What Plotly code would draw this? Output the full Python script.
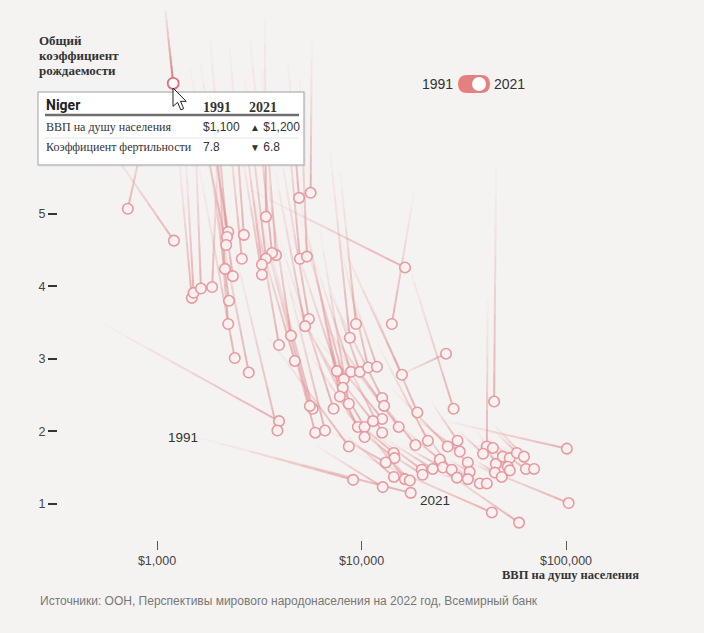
import math
import plotly.graph_objects as go

# ---------------- DATA ----------------
# GDP per capita (PPP $) and total fertility rate, 1991 -> 2021
gdp_1991 = [1100, 900, 560, 1270, 1370, 1530, 1990, 1620, 1820, 1450,
            2270, 2150, 1920, 1820, 1720, 1920, 3370, 3260, 2850, 2690,
            2545, 2545, 4370, 5710, 4230, 5000, 3990, 3780, 3370, 2850,
            2850, 1620, 1920, 557, 2400, 3570, 4230, 3370, 3010, 3990,
            5000, 5000, 4470, 5590, 6260, 7000, 7840, 6000, 7000, 8000,
            9000, 18140, 2850, 14500, 7840, 7000, 6500, 11000, 17000, 45500,
            6000, 8500, 4500, 5000, 5500, 7000, 3500, 9000, 12000, 14000,
            22000, 18000, 41400, 36000, 30000, 8000, 9000, 7000, 15000, 25000,
            37000, 38000, 42000, 45000, 44000, 40000, 41000, 46000, 48000, 36000,
            38000, 11000, 13000, 16000, 19000, 27000, 12000, 24000, 28000, 33000,
            36000, 8000, 10000, 12000, 2850, 6000, 1530, 8770, 19300, 24150,
            27000, 6500]
fert_1991 = [7.8, 6.3, 6.0, 5.9, 6.0, 6.3, 5.9, 7.1, 7.4, 7.0,
             7.3, 6.7, 6.6, 6.3, 6.2, 5.7, 7.7, 7.0, 7.4, 6.85,
             6.6, 6.0, 7.1, 7.4, 6.6, 6.85, 5.9, 5.6, 5.7, 5.5,
             5.1, 5.6, 5.2, 3.47, 4.5, 4.37, 4.23, 4.78, 5.19, 4.64,
             5.19, 4.92, 4.78, 4.64, 4.78, 5.88, 5.6, 4.3, 4.0, 4.5,
             3.9, 5.33, 5.33, 2.74, 4.64, 3.9, 3.5, 3.8, 4.3, 5.63,
             3.3, 3.0, 3.9, 3.6, 3.1, 3.4, 3.3, 2.9, 3.2, 2.6,
             2.4, 2.2, 3.81, 1.8, 2.0, 2.3, 2.1, 2.0, 2.1, 1.9,
             2.0, 1.85, 1.9, 2.0, 2.1, 1.7, 1.6, 1.75, 1.8, 1.6,
             1.5, 2.0, 1.9, 1.8, 2.1, 1.6, 1.8, 1.4, 1.55, 1.4,
             1.3, 2.0, 2.1, 1.8, 1.72, 1.8, 1.92, 1.74, 1.68, 2.16,
             1.68, 3.0]
gdp_2021 = [1200, 720, 1210, 1480, 1510, 1640, 1860, 2230, 2200, 2180,
            2660, 2600, 2150, 2350, 2250, 2230, 3410, 3820, 3650, 3410,
            3260, 3260, 4950, 5640, 5000, 5410, 5530, 5300, 4520, 3950,
            4720, 2400, 2810, 3950, 3880, 5940, 6630, 5770, 5590, 7300,
            7580, 8200, 8100, 7840, 8670, 8770, 9400, 8880, 9820, 10780,
            11900, 14070, 16320, 25900, 15770, 12620, 12900, 18750, 28200, 44500,
            12620, 15200, 9600, 10350, 10350, 12620, 8670, 18350, 21120, 26400,
            29490, 30240, 41000, 43900, 39300, 14380, 14500, 13150, 24150, 33100,
            45400, 49100, 53100, 57500, 62300, 51900, 53100, 63700, 69800, 44900,
            48500, 19700, 22300, 25000, 27600, 33800, 19900, 29300, 33100, 37900,
            41000, 14400, 16300, 17230, 9100, 12700, 17400, 43400, 58900, 101000,
            103000, 11380]
fert_2021 = [6.8, 5.07, 4.63, 3.84, 3.91, 3.97, 3.99, 4.75, 4.68, 4.57,
             4.71, 4.38, 4.24, 4.14, 3.80, 3.48, 4.96, 4.43, 4.46, 4.38,
             4.30, 4.16, 5.22, 5.29, 4.38, 4.41, 3.55, 3.45, 3.32, 3.19,
             2.97, 3.01, 2.81, 2.14, 2.01, 1.98, 2.01, 2.31, 2.35, 2.31,
             2.83, 2.72, 2.60, 2.48, 2.38, 3.29, 3.48, 2.82, 2.82, 2.88,
             2.89, 3.48, 4.26, 3.07, 2.78, 2.46, 2.35, 2.26, 2.31, 2.41,
             2.17, 2.06, 2.06, 2.06, 1.92, 1.98, 1.79, 1.81, 1.87, 1.79,
             1.87, 1.72, 1.79, 1.77, 1.69, 1.70, 1.63, 1.57, 1.61, 1.57,
             1.55, 1.65, 1.63, 1.70, 1.65, 1.51, 1.46, 1.48, 1.48, 1.43,
             1.37, 1.47, 1.48, 1.50, 1.47, 1.44, 1.40, 1.36, 1.34, 1.28,
             1.28, 1.37, 1.34, 1.32, 1.33, 1.23, 1.15, 0.88, 0.74, 1.76,
             1.01, 2.14]
highlight = 0  # Niger
x_tickvals = [1000, 10000, 100000]
x_ticktext = ["$1,000", "$10,000", "$100,000"]
y_tickvals = [1, 2, 3, 4, 5]

# ---------------- STYLE ----------------
BG = "#f5f3f1"
W, H = 704, 633
L, R, T, B = 58, 59, 0, 93
pw, ph = W - L - R, H - T - B
XR = [2.5159, 5.3863]
YR = [0.5, 7.95]

def px(x):
    return (x - L) / pw

def py(y):
    return (H - B - y) / ph

fig = go.Figure()

K = 8
n = len(gdp_2021)
groups = 12
for k in range(K):
    t0, t1 = k / K, (k + 1) / K
    a = 0.04 + 0.66 * ((k + 0.5) / K) ** 1.3
    for g in range(groups):
        xs, ys = [], []
        for i in range(g, n, groups):
            if i == highlight:
                continue
            lx0, lx1 = math.log10(gdp_1991[i]), math.log10(gdp_2021[i])
            y0, y1 = fert_1991[i], fert_2021[i]
            xs += [10 ** (lx0 + t0 * (lx1 - lx0)), 10 ** (lx0 + t1 * (lx1 - lx0)), None]
            ys += [y0 + t0 * (y1 - y0), y0 + t1 * (y1 - y0), None]
        fig.add_trace(go.Scatter(x=xs, y=ys, mode="lines",
                                 line=dict(color=f"rgba(226,145,148,{a:.3f})", width=2),
                                 hoverinfo="skip", showlegend=False))

# highlighted line
i = highlight
lx0, lx1 = math.log10(gdp_1991[i]), math.log10(gdp_2021[i])
for k in range(K):
    t0, t1 = k / K, (k + 1) / K
    a = 0.1 + 0.85 * ((k + 0.5) / K) ** 1.2
    fig.add_trace(go.Scatter(
        x=[10 ** (lx0 + t0 * (lx1 - lx0)), 10 ** (lx0 + t1 * (lx1 - lx0))],
        y=[fert_1991[i] + t0 * (fert_2021[i] - fert_1991[i]), fert_1991[i] + t1 * (fert_2021[i] - fert_1991[i])],
        mode="lines", line=dict(color=f"rgba(220,100,112,{a:.3f})", width=2),
        hoverinfo="skip", showlegend=False))

others = [j for j in range(n) if j != highlight]
fig.add_trace(go.Scatter(
    x=[gdp_2021[j] for j in others], y=[fert_2021[j] for j in others], mode="markers",
    marker=dict(size=10.5, color="rgba(250,242,242,0.92)",
                line=dict(color="rgba(230,150,155,0.95)", width=1.6)),
    hoverinfo="skip", showlegend=False))
fig.add_trace(go.Scatter(
    x=[gdp_2021[highlight]], y=[fert_2021[highlight]], mode="markers",
    marker=dict(size=11, color="white", line=dict(color="rgb(222,112,122)", width=1.8)),
    hoverinfo="skip", showlegend=False))

shapes = []
ann = []

# tooltip box
shapes.append(dict(type="rect", xref="paper", yref="paper", x0=px(39), x1=px(305.5), y0=py(166.5), y1=py(93),
                   fillcolor="rgba(0,0,0,0.07)", line=dict(width=0), layer="above"))
shapes.append(dict(type="rect", xref="paper", yref="paper", x0=px(38), x1=px(304), y0=py(165), y1=py(92),
                   fillcolor="white", line=dict(color="#bdbdbd", width=1.5), layer="above"))
shapes.append(dict(type="line", xref="paper", yref="paper", x0=px(45), x1=px(299), y0=py(115), y1=py(115),
                   line=dict(color="#6f6f6f", width=2.5), layer="above"))
shapes.append(dict(type="line", xref="paper", yref="paper", x0=px(45), x1=px(299), y0=py(138), y1=py(138),
                   line=dict(color="#e4e4e4", width=1), layer="above"))

def txt(x, y, s, size=12, color="#333", family="Liberation Sans", xanchor="left", bold=False, bg=None):
    d = dict(xref="paper", yref="paper", x=px(x), y=py(y), text=(f"<b>{s}</b>" if bold else s),
             showarrow=False, xanchor=xanchor, yanchor="middle",
             font=dict(size=size, color=color, family=family))
    if bg:
        d["bgcolor"] = bg
    ann.append(d)

SERIF = "Liberation Serif"
txt(44, 105, "Niger", 14, "#222", "Roboto", bold=True)
txt(201, 107, "1991", 14, "#333", SERIF, bold=True)
txt(247, 107, "2021", 14, "#333", SERIF, bold=True)
txt(44, 127, "ВВП на душу населения", 12, "#333", SERIF)
txt(201, 127, "$1,100", 12, "#333", "Liberation Sans")
txt(248, 127, "<span style='font-size:10px'>▲</span> $1,200", 12, "#333", "Liberation Sans")
txt(44, 147, "Коэффициент фертильности", 12, "#333", SERIF)
txt(201, 147, "7.8", 12, "#333", "Liberation Sans")
txt(248, 147, "<span style='font-size:10px'>▼</span> 6.8", 12, "#333", "Liberation Sans")

# y-axis title (three lines)
for yy, s in [(40, "Общий"), (55, "коэффициент"), (70, "рождаемости")]:
    txt(37, yy, s, 13, "#333", SERIF, bold=True)
# x-axis title
txt(641, 575, "ВВП на душу населения", 12.5, "#333", SERIF, xanchor="right", bold=True)
# source
txt(38, 601, "Источники: ООН, Перспективы мирового народонаселения на 2022 год, Всемирный банк",
    12, "#777", "Liberation Sans")
# series labels
txt(183, 437, "1991", 13.5, "#333", "Liberation Sans", xanchor="center")
txt(435, 500, "2021", 13.5, "#333", "Liberation Sans", xanchor="center")

# toggle
txt(455, 84, "1991", 14, "#333", "Liberation Sans", xanchor="right")
txt(492, 84, "2021", 14, "#333", "Liberation Sans", xanchor="left")
r = 9
x0t, x1t = 458, 490
path = (f"M {px(x0t + r)} {py(75)} L {px(x1t - r)} {py(75)} "
        f"Q {px(x1t)} {py(75)} {px(x1t)} {py(84)} Q {px(x1t)} {py(93)} {px(x1t - r)} {py(93)} "
        f"L {px(x0t + r)} {py(93)} Q {px(x0t)} {py(93)} {px(x0t)} {py(84)} "
        f"Q {px(x0t)} {py(75)} {px(x0t + r)} {py(75)} Z")
shapes.append(dict(type="path", xref="paper", yref="paper", path=path,
                   fillcolor="rgb(229,128,128)", line=dict(width=0), layer="above"))
shapes.append(dict(type="circle", xref="paper", yref="paper", x0=px(472), x1=px(486), y0=py(91), y1=py(77),
                   fillcolor="white", line=dict(width=0), layer="above"))

# cursor
cx, cy, s = 173, 88, 1.15
pts = [(0, 0), (0, 16), (4, 12.5), (6.8, 19), (9.3, 18), (6.6, 11.6), (11.5, 11.6)]
cp = "M " + " L ".join(f"{px(cx + a * s)} {py(cy + b * s)}" for a, b in pts) + " Z"
shapes.append(dict(type="path", xref="paper", yref="paper", path=cp,
                   fillcolor="white", line=dict(color="#222", width=1), layer="above"))

fig.update_layout(
    width=W, height=H, margin=dict(l=L, r=R, t=T, b=B),
    paper_bgcolor=BG, plot_bgcolor=BG,
    shapes=shapes, annotations=ann, showlegend=False,
    xaxis=dict(type="log", range=XR, tickvals=x_tickvals, ticktext=x_ticktext,
               showgrid=False, zeroline=False, showline=False,
               ticks="outside", ticklen=9, tickwidth=1, tickcolor="#555",
               tickfont=dict(size=12.5, color="#444", family="Liberation Sans")),
    yaxis=dict(range=YR, tickvals=y_tickvals, showgrid=False, zeroline=False, showline=False,
               ticks="outside", ticklen=9, tickwidth=1.5, tickcolor="#333",
               tickfont=dict(size=12.5, color="#444", family="Liberation Sans")),
)

fig.write_html("out.html", config={"displayModeBar": False},
               post_script="document.body.style.margin='0';document.body.style.background='%s';" % BG)
